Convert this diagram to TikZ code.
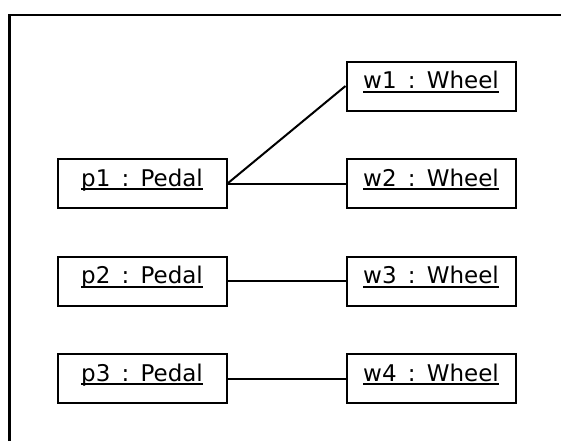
\documentclass[tikz,border=0pt]{standalone}
\usepackage{fontspec}
\setmainfont{DejaVu Sans}
\usetikzlibrary{positioning}
\definecolor{ink}{HTML}{000000}
% object name, underlined close to the baseline
\newcommand{\objname}[2]{%
  \setbox0\hbox{#1\hspace{5.6pt}:\hspace{5.6pt}#2}\rlap{\rule[-2.1pt]{\wd0}{1.1pt}}\box0}
\tikzset{
  obj/.style   = {draw=ink, line width=1pt, rectangle, inner sep=0pt,
                  minimum width=84.5pt, text height=13.5pt, text depth=11pt,
                  font=\fontsize{11.5}{14}\selectfont},
  link/.style  = {draw=ink, line width=1pt},
  frame/.style = {draw=ink, line width=1.4pt},
}
\begin{document}
\begin{tikzpicture}[x=0.5pt, y=-0.5pt, node distance=23.25pt and 59pt]
  \useasboundingbox (0,0) rectangle (561,441);
  \draw[frame] (9.5,441) -- (9.5,15) -- (561,15);

  \node[obj] (p1) at (142,183.5) {\objname{p1}{Pedal}};
  \node[obj, below=of p1] (p2) {\objname{p2}{Pedal}};
  \node[obj, below=of p2] (p3) {\objname{p3}{Pedal}};

  \node[obj, right=of p1] (w2) {\objname{w2}{Wheel}};
  \node[obj, above=of w2] (w1) {\objname{w1}{Wheel}};
  \node[obj, right=of p2] (w3) {\objname{w3}{Wheel}};
  \node[obj, right=of p3] (w4) {\objname{w4}{Wheel}};

  \draw[link] (p1.east) -- (w1.west);
  \draw[link] (p1.east) -- (w2.west);
  \draw[link] (p2) -- (w3);
  \draw[link] (p3) -- (w4);
\end{tikzpicture}
\end{document}
